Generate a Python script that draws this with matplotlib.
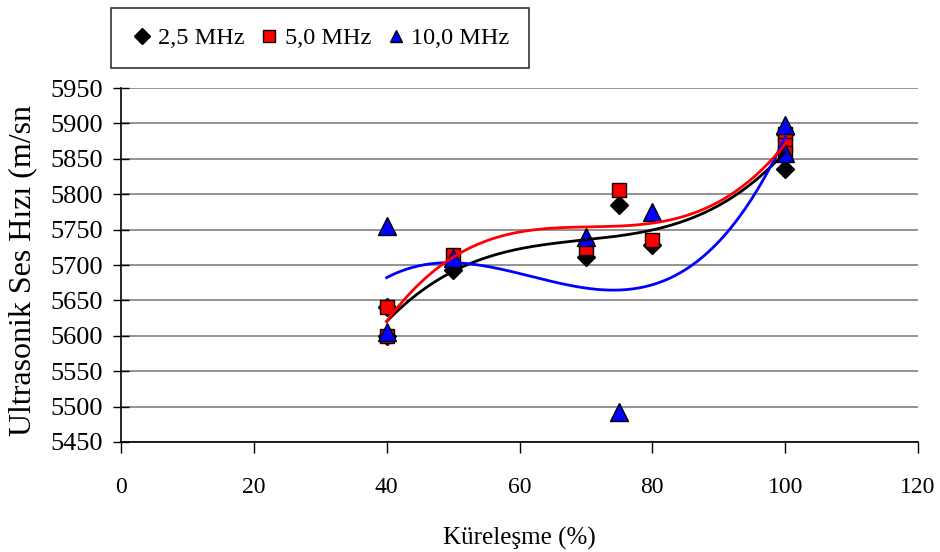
import numpy as np
import matplotlib.pyplot as plt
from matplotlib.transforms import Bbox

plt.rcParams['font.family'] = ['Liberation Serif', 'DejaVu Serif']

# measured values (Küreleşme %, ultrasonic velocity m/sn)
x_25 = [40, 40, 50, 70, 75, 80, 100, 100]
y_25 = [5600, 5640, 5693, 5711, 5785, 5728, 5835, 5885]

x_50 = [40, 40, 50, 70, 75, 80, 100, 100, 100]
y_50 = [5640, 5600, 5714, 5724, 5806, 5735, 5885, 5870, 5858]

x_100 = [40, 40, 50, 70, 75, 80, 100, 100]
y_100 = [5755, 5605, 5710, 5740, 5492, 5775, 5898, 5858]

labels = ['2,5 MHz', '5,0 MHz', '10,0 MHz']

x_ticks = [0, 20, 40, 60, 80, 100, 120]
y_ticks = [5450, 5500, 5550, 5600, 5650, 5700, 5750, 5800, 5850, 5900, 5950]


def trend(x, y, order=3):
    """
    polynomial trend line like the excel one, drawn over the data range
    """
    coef = np.polyfit(x, y, order)
    xs = np.linspace(min(x), max(x), 200)
    return xs, np.polyval(coef, xs)


fig = plt.figure(figsize=(9.4, 5.52), dpi=100)
ax = fig.add_axes([121 / 940, 1 - 442 / 552, 797 / 940, 354 / 552])

# markers
ax.plot(x_25, y_25, ls='none', marker='D', ms=9.5, mfc='black', mec='black', zorder=3, label=labels[0])
ax.plot(x_50, y_50, ls='none', marker='s', ms=10.5, mfc='#ff0000', mec='black', mew=1, zorder=3, label=labels[1])
ax.plot(x_100, y_100, ls='none', marker='^', ms=12.5, mfc='#0000ff', mec='black', mew=1, zorder=3, label=labels[2])

# trend lines
xs, ys = trend(x_25, y_25)
ax.plot(xs, ys, color='black', lw=2, zorder=4)
xs, ys = trend(x_100, y_100)
ax.plot(xs, ys, color='#0000ff', lw=2, zorder=4)
xs, ys = trend(x_50, y_50)
ax.plot(xs, ys, color='#ff0000', lw=2, zorder=4)

# axes configurations
ax.set_xlim(0, 120)
ax.set_ylim(5450, 5950)
ax.set_xticks(x_ticks)
ax.set_yticks(y_ticks)
ax.tick_params(axis='x', direction='out', length=8, width=1, labelsize=17, pad=17)
ax.tick_params(axis='y', direction='inout', length=12, width=1, labelsize=19, pad=7)
ax.grid(axis='y', color='#808080', lw=1.2)
ax.set_axisbelow(True)
for side in ['top', 'right']:
    ax.spines[side].set_visible(False)
for side in ['left', 'bottom']:
    ax.spines[side].set_linewidth(1.2)

ax.set_xlabel('Küreleşme (%)', fontsize=18, labelpad=21)

# y label starts at the bottom and is cut by the chart area at the top (as in the original)
ylab = fig.text(23 / 940, 1 - 436 / 552, 'Ultrasonik Ses Hızı (m/sn)', rotation=90,
                ha='center', va='bottom', fontsize=23)
ylab.set_clip_box(Bbox([[0, 0], [940, 552 - 105]]))
ylab.set_clip_on(True)

leg = fig.legend(loc='center', bbox_to_anchor=(120 / 940, 1 - 68 / 552, 400 / 940, 60 / 552),
                 ncol=3, fontsize=17.5, frameon=True, fancybox=False, handletextpad=0.15,
                 columnspacing=0.5, handlelength=1.0, borderpad=0.8)
leg.get_frame().set_edgecolor('black')
leg.get_frame().set_linewidth(1.2)
for h in leg.legend_handles:
    h.set_markersize(8.5)

fig.savefig('out.png', dpi=100)
